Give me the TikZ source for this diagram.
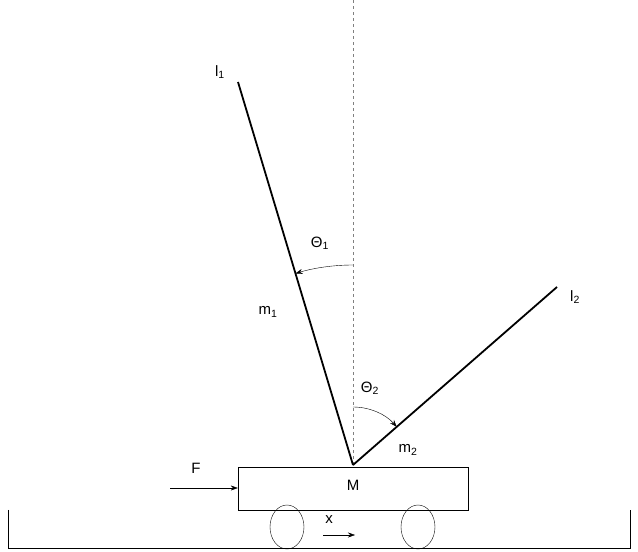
\documentclass[tikz,border=0pt]{standalone}
\usepackage{fontspec}
\setmainfont{Liberation Sans}
\usetikzlibrary{arrows.meta,shapes.geometric}
\begin{document}
\begin{tikzpicture}[x=1pt,y=1pt,
  lab/.style={font=\fontsize{15}{17}\selectfont,inner sep=1pt},
  rod/.style={line width=1.8pt},
  arr/.style={-{Stealth[length=7pt,width=5pt]},thin}]
\useasboundingbox (0,0) rectangle (638,552);
\coordinate (P) at (353,87);
\coordinate (E1) at (238,470);
\coordinate (E2) at (557,265);
\coordinate (T) at (353,552);
\draw[dashed,gray] (P) -- (T);
\draw[rod] (P) -- (E1);
\draw[rod] (P) -- (E2);
\node[draw,thin,minimum width=230pt,minimum height=43pt,inner sep=0pt] (cart) at (353,63.5) {};
\node[lab] (M) at (353,67) {M};
\draw[semithick] (8,42) -- (8,4) -- (630,4) -- (630,42);
\node[draw,ellipse,minimum width=34pt,minimum height=44pt,inner sep=0pt] (w1) at (287,25) {};
\node[draw,ellipse,minimum width=34pt,minimum height=44pt,inner sep=0pt] (w2) at (418,25) {};
\coordinate (F0) at (170,64);
\draw[arr] (F0) -- (cart.west |- F0);
\node[lab] (F) at (196,84) {F};
\coordinate (x0) at (323,17);
\coordinate (x1) at (355,17);
\draw[arr] (x0) -- (x1);
\node[lab] (x) at (329,32) {x};
\draw[arr] (353,287) arc[start angle=90,end angle=106.7,radius=200];
\draw[arr] (353,145) arc[start angle=90,end angle=41.1,radius=58];
\node[lab] (l1) at (220,480) {l\textsubscript{1}};
\node[lab] (l2) at (575,255) {l\textsubscript{2}};
\node[lab] (t1) at (320,309) {Θ\textsubscript{1}};
\node[lab] (t2) at (370,164) {Θ\textsubscript{2}};
\node[lab] (m1) at (268,240) {m\textsubscript{1}};
\node[lab] (m2) at (408,102) {m\textsubscript{2}};
\end{tikzpicture}
\end{document}
